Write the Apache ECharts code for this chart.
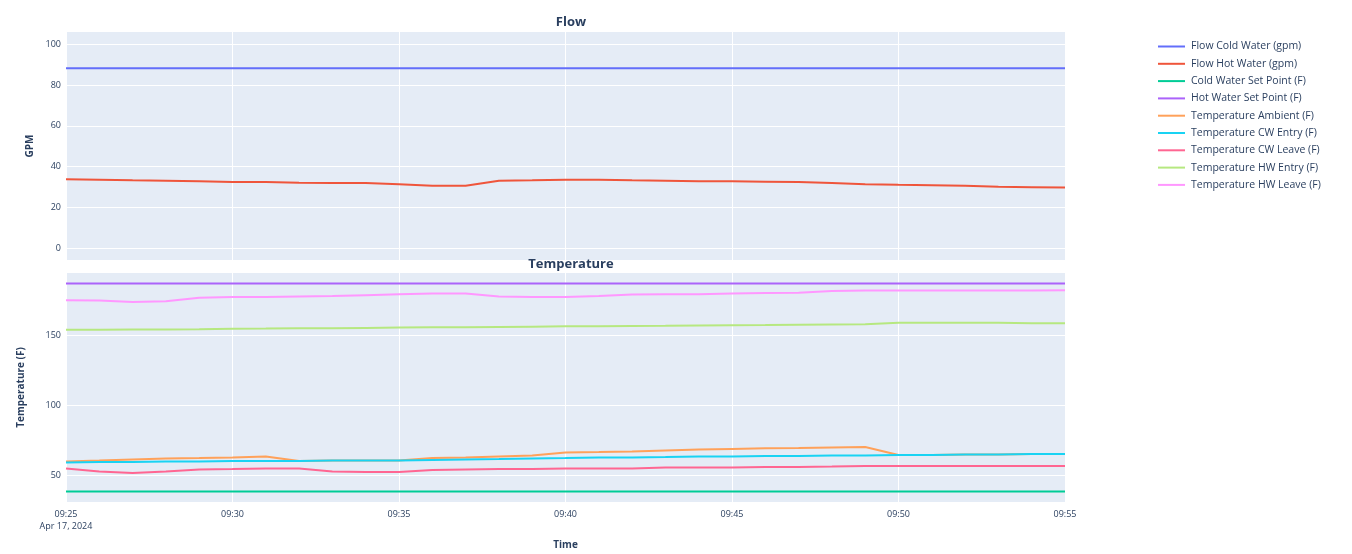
<!DOCTYPE html>
<html>
<head>
<meta charset="utf-8">
<script src="https://cdn.jsdelivr.net/npm/echarts@6/dist/echarts.min.js"></script>
<style>
html,body{margin:0;padding:0;background:#fff;}
#chart{width:1352px;height:554px;}
</style>
</head>
<body>
<div id="chart"></div>
<script>
// ---- Data ----
const times = ['09:25','09:26','09:27','09:28','09:29','09:30','09:31','09:32','09:33','09:34',
  '09:35','09:36','09:37','09:38','09:39','09:40','09:41','09:42','09:43','09:44',
  '09:45','09:46','09:47','09:48','09:49','09:50','09:51','09:52','09:53','09:54','09:55'];
const dateLabel = 'Apr 17, 2024';

const flowColdWater = [88.2,88.2,88.2,88.2,88.2,88.2,88.2,88.2,88.2,88.2,88.2,88.2,88.2,88.2,88.2,88.2,
  88.2,88.2,88.2,88.2,88.2,88.2,88.2,88.2,88.2,88.2,88.2,88.2,88.2,88.2,88.2];
const flowHotWater = [33.8,33.6,33.3,33.1,32.8,32.4,32.4,32.1,31.9,31.9,31.4,30.6,30.6,33.1,33.3,33.6,
  33.6,33.3,33.1,32.8,32.8,32.6,32.4,31.9,31.4,31.1,30.9,30.6,30.1,29.9,29.7];
const coldWaterSetPoint = [38.1,38.1,38.1,38.1,38.1,38.1,38.1,38.1,38.1,38.1,38.1,38.1,38.1,38.1,38.1,38.1,
  38.1,38.1,38.1,38.1,38.1,38.1,38.1,38.1,38.1,38.1,38.1,38.1,38.1,38.1,38.1];
const hotWaterSetPoint = [187.5,187.5,187.5,187.5,187.5,187.5,187.5,187.5,187.5,187.5,187.5,187.5,187.5,187.5,187.5,187.5,
  187.5,187.5,187.5,187.5,187.5,187.5,187.5,187.5,187.5,187.5,187.5,187.5,187.5,187.5,187.5];
const tempAmbient = [59.7,60.4,61.2,61.9,62.2,62.6,63.3,60.1,60.4,60.4,60.4,62.2,62.6,63.3,64.0,66.2,
  66.5,66.9,67.6,68.3,68.7,69.1,69.4,69.8,70.1,64.4,64.4,64.7,64.7,65.1,65.1];
const tempCWEntry = [59.0,59.4,59.4,59.7,59.7,60.1,60.1,60.1,60.4,60.4,60.4,60.8,61.2,61.5,61.9,62.2,
  62.6,62.6,62.9,63.3,63.3,63.7,63.7,64.0,64.0,64.4,64.4,64.7,64.7,65.1,65.1];
const tempCWLeave = [54.7,52.5,51.4,52.5,54.0,54.3,54.7,54.7,52.5,52.2,52.2,53.6,54.0,54.3,54.3,54.7,
  54.7,54.7,55.4,55.4,55.4,55.8,55.8,56.1,56.5,56.5,56.5,56.5,56.5,56.5,56.5];
const tempHWEntry = [154.2,154.3,154.4,154.5,154.6,155.0,155.1,155.3,155.4,155.6,155.8,156.0,156.1,156.3,156.5,156.7,
  156.8,157.0,157.1,157.3,157.5,157.6,157.8,158.0,158.2,159.2,159.3,159.3,159.2,159.0,159.0];
const tempHWLeave = [175.5,175.2,174.1,174.8,177.3,177.7,177.7,178.1,178.4,179.1,179.8,180.2,180.2,178.1,177.7,177.7,
  178.4,179.5,179.8,179.8,180.2,180.6,180.9,182.0,182.4,182.4,182.4,182.4,182.4,182.4,182.7];

const seriesNames = ['Flow Cold Water (gpm)','Flow Hot Water (gpm)','Cold Water Set Point (F)',
  'Hot Water Set Point (F)','Temperature Ambient (F)','Temperature CW Entry (F)',
  'Temperature CW Leave (F)','Temperature HW Entry (F)','Temperature HW Leave (F)'];
const seriesValues = [flowColdWater, flowHotWater, coldWaterSetPoint, hotWaterSetPoint, tempAmbient,
  tempCWEntry, tempCWLeave, tempHWEntry, tempHWLeave];
const seriesPanel = [0,0,1,1,1,1,1,1,1];
const flowTicks = [0,20,40,60,80,100];
const tempTicks = [50,100,150];

// ---- Build ----
const colors = ['#636EFA','#EF553B','#00CC96','#AB63FA','#FFA15A','#19D3F3','#FF6692','#B6E880','#FF97FF'];
function toMs(t){ const p=t.split(':'); return Date.UTC(2024,3,17,+p[0],+p[1]); }
const xs = times.map(toMs);
const xMin = xs[0], xMax = xs[xs.length-1];
function pad(n){ return (n<10?'0':'')+n; }
function fmtTime(v){ const d=new Date(v); return pad(d.getUTCHours())+':'+pad(d.getUTCMinutes()); }

const textColor = '#2a3f5f';
const font = '"Open Sans", Verdana, Arial, sans-serif';

const series = seriesValues.map((vals,i)=>({
  name: seriesNames[i], type:'line', xAxisIndex: seriesPanel[i], yAxisIndex: seriesPanel[i],
  data: vals.map((v,j)=>[xs[j], v]), showSymbol:false, symbol:'none',
  lineStyle:{width:2, color:colors[i]}, itemStyle:{color:colors[i]}, animation:false, z: 2+i
}));

const xBase = {
  type:'value', min:xMin, max:xMax, interval:300000,
  axisLine:{show:false}, axisTick:{show:false},
  splitLine:{show:true, lineStyle:{color:'#ffffff', width:1}}
};

const option = {
  animation:false,
  textStyle:{fontFamily:font, color:textColor},
  title:[
    {text:'Flow', left:566, top:11, textAlign:'center', textStyle:{fontSize:13, fontWeight:'bold', color:textColor, fontFamily:font}},
    {text:'Temperature', left:566, top:253, textAlign:'center', textStyle:{fontSize:13, fontWeight:'bold', color:textColor, fontFamily:font}}
  ],
  legend:{
    orient:'vertical', left:1153, top:36, icon:'rect', itemWidth:27, itemHeight:2, itemGap:6.3,
    textStyle:{fontSize:10.5, color:textColor, fontFamily:font, padding:[0,0,0,1]},
    data: seriesNames
  },
  grid:[
    {left:66, right:287, top:32, height:228, show:true, backgroundColor:'#E5ECF6', borderWidth:0},
    {left:66, right:287, top:273, height:229, show:true, backgroundColor:'#E5ECF6', borderWidth:0}
  ],
  xAxis:[
    Object.assign({}, xBase, {gridIndex:0, axisLabel:{show:false}}),
    Object.assign({}, xBase, {gridIndex:1, name:'Time', nameLocation:'middle', nameGap:38,
      nameTextStyle:{fontSize:10, fontWeight:'bold', color:textColor, fontFamily:font},
      axisLabel:{show:true, fontSize:9, color:textColor, margin:6, lineHeight:12, hideOverlap:false,
        showMinLabel:true, showMaxLabel:true,
        formatter:function(v){ return v===xMin ? fmtTime(v)+'\n'+dateLabel : fmtTime(v); }}})
  ],
  yAxis:[
    {type:'value', gridIndex:0, min:-5.8, max:106, name:'GPM', nameLocation:'middle', nameGap:26,
      nameTextStyle:{fontSize:10, fontWeight:'bold', color:textColor, fontFamily:font},
      axisLine:{show:false},
      axisTick:{show:false, customValues:flowTicks},
      axisLabel:{fontSize:9, color:textColor, margin:5, customValues:flowTicks},
      splitLine:{show:true, lineStyle:{color:'#ffffff', width:1}}},
    {type:'value', gridIndex:1, min:30.6, max:195, name:'Temperature (F)', nameLocation:'middle', nameGap:40,
      nameTextStyle:{fontSize:10, fontWeight:'bold', color:textColor, fontFamily:font},
      axisLine:{show:false},
      axisTick:{show:false, customValues:tempTicks},
      axisLabel:{fontSize:9, color:textColor, margin:5, customValues:tempTicks},
      splitLine:{show:true, lineStyle:{color:'#ffffff', width:1}}}
  ],
  series: series
};

const chart = echarts.init(document.getElementById('chart'), null, {renderer:'canvas'});
chart.setOption(option);
</script>
</body>
</html>
